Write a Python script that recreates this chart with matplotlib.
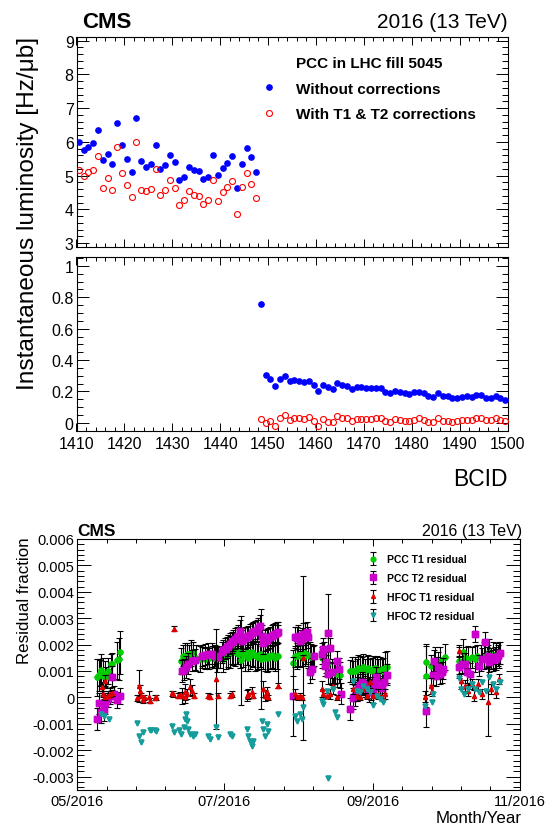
import numpy as np
import matplotlib
matplotlib.use('Agg')
import matplotlib.pyplot as plt
from matplotlib.ticker import MultipleLocator, FixedLocator, FuncFormatter, NullFormatter
from matplotlib.lines import Line2D
from matplotlib.container import ErrorbarContainer
from matplotlib.legend_handler import HandlerErrorbar
import datetime as dt

plt.rcParams['font.family'] = ['Liberation Sans', 'DejaVu Sans']
plt.rcParams['axes.unicode_minus'] = False

# ---------------- Upper figure data: PCC per BCID in fill 5045 ----------------
bcid = list(range(1410, 1500))
lumi_without = [
    5.99, 5.77, 5.86, 5.96, 6.34, 5.47, 5.65, 5.34, 6.57, 5.92,
    5.51, 5.12, 6.70, 5.43, 5.27, 5.34, 5.92, 5.20, 5.31, 5.61,
    5.41, 4.88, 4.96, 5.25, 5.18, 5.14, 4.89, 4.96, 5.61, 5.03,
    5.24, 5.38, 5.58, 4.65, 5.34, 5.82, 5.55, 5.10,
    0.756, 0.303, 0.278, 0.237, 0.278, 0.297, 0.269, 0.275, 0.269, 0.261,
    0.267, 0.242, 0.206, 0.242, 0.227, 0.216, 0.252, 0.242, 0.237, 0.218,
    0.229, 0.229, 0.222, 0.220, 0.225, 0.220, 0.197, 0.191, 0.206, 0.199,
    0.191, 0.184, 0.195, 0.199, 0.193, 0.172, 0.163, 0.191, 0.174, 0.172,
    0.157, 0.161, 0.167, 0.169, 0.167, 0.178, 0.176, 0.161, 0.159, 0.172,
    0.157, 0.148]
lumi_with = [
    5.16, 4.99, 5.10, 5.18, 5.57, 4.65, 4.92, 4.59, 5.84, 5.08,
    4.72, 4.38, 5.99, 4.58, 4.54, 4.61, 5.20, 4.42, 4.58, 4.87,
    4.65, 4.14, 4.27, 4.55, 4.44, 4.41, 4.17, 4.27, 4.88, 4.26,
    4.53, 4.66, 4.83, 3.87, 4.66, 5.07, 4.76, 4.33,
    0.025, -0.004, 0.015, -0.017, 0.030, 0.051, 0.021, 0.034, 0.032, 0.025,
    0.038, 0.015, -0.017, 0.023, 0.008, 0.004, 0.042, 0.030, 0.028, 0.013,
    0.025, 0.025, 0.023, 0.023, 0.030, 0.028, 0.011, 0.008, 0.025, 0.019,
    0.015, 0.013, 0.021, 0.030, 0.021, 0.006, 0.004, 0.032, 0.015, 0.013,
    0.004, 0.013, 0.021, 0.019, 0.019, 0.034, 0.032, 0.019, 0.021, 0.030,
    0.019, 0.013]

# ---------------- Lower figure data: residual fractions vs time ----------------
# time = days since 2016-05-01
pcc_t1_day = [8.4, 8.9, 9.3, 9.9, 10.7, 11.4, 12.1, 12.7, 13.9, 14.6, 16.7, 17.4, 17.9,
              43.3, 44.1, 44.7, 45.5, 46.5, 47.4, 48.3, 49.2,
              51.0, 52.0, 53.0, 54.0, 55.0, 56.0, 57.0, 58.0,
              59.5, 60.8, 61.8, 62.6, 63.5, 64.2, 64.9, 65.6, 66.3, 67.0, 67.7, 68.3, 69.0, 69.8,
              70.5, 71.2, 71.8, 72.5, 73.2, 73.9, 74.6, 75.3, 76.0, 76.6, 77.3, 78.1, 78.8, 79.5,
              80.1, 80.8, 81.5, 82.2, 82.9, 83.5,
              89.9, 90.6, 91.2, 91.9, 92.6, 93.3, 93.9, 94.6, 95.3, 96.0, 96.7, 97.4, 98.1,
              101.6, 102.5, 103.4, 104.4, 105.2, 106.0, 106.6, 107.3, 108.0, 108.8, 109.4,
              113.4, 114.1, 114.8, 115.5, 116.2, 116.9, 117.6, 118.3, 119.0, 119.7, 120.4, 121.1,
              121.7, 122.4, 123.1, 123.8, 124.5, 125.2, 125.9, 126.6, 127.3, 128.0, 128.7,
              144.8, 145.1, 147.0, 148.7, 150.0, 150.8, 152.8,
              158.9, 160.4, 161.5, 162.6, 164.0, 165.2, 166.3, 167.7, 169.2, 170.2, 171.3, 172.8,
              174.2, 175.3]
pcc_t1_val = [0.00076, 0.00085, 0.00092, 0.00105, 0.00080, 0.00088, 0.00076, 0.00100, 0.00125,
              0.00127, 0.00140, 0.00146, 0.00170,
              0.00138, 0.00158, 0.00156, 0.00165, 0.00160, 0.00168, 0.00171, 0.00150,
              0.00145, 0.00150, 0.00146, 0.00152, 0.00148, 0.00155, 0.00150, 0.00145,
              0.00150, 0.00146, 0.00158, 0.00165, 0.00171, 0.00178, 0.00184, 0.00170, 0.00177,
              0.00165, 0.00171, 0.00140, 0.00165, 0.00160,
              0.00171, 0.00150, 0.00158, 0.00170, 0.00165, 0.00160, 0.00152, 0.00158, 0.00165,
              0.00146, 0.00158, 0.00150, 0.00156, 0.00148,
              0.00158, 0.00160, 0.00156, 0.00150, 0.00158, 0.00155,
              0.00129, 0.00155, 0.00156, 0.00160, 0.00165, 0.00160, 0.00150, 0.00168, 0.00165,
              0.00160, 0.00158, 0.00152, 0.00156,
              0.00150, 0.00160, 0.00120, 0.00130, 0.00089, 0.00095, 0.00095, 0.00092, 0.00089,
              0.00095, 0.00085,
              0.00100, 0.00101, 0.00098, 0.00101, 0.00105, 0.00110, 0.00108, 0.00112, 0.00114,
              0.00105, 0.00108, 0.00112, 0.00105, 0.00100, 0.00108, 0.00112, 0.00108, 0.00104,
              0.00101, 0.00106, 0.00100, 0.00110, 0.00115,
              0.00133, 0.00082, 0.00120, 0.00139, 0.00130, 0.00139, 0.00152,
              0.00139, 0.00171, 0.00150, 0.00143, 0.00152, 0.00145, 0.00158, 0.00150, 0.00158,
              0.00150, 0.00171, 0.00158, 0.00165, 0.00160]
pcc_t1_err = [0.0007, 0.0006, 0.0005, 0.0006, 0.0007, 0.0005, 0.0004, 0.0005, 0.0004, 0.0004,
              0.0007, 0.0008, 0.0008,
              0.0005, 0.0004, 0.0005, 0.0004, 0.0004, 0.0005, 0.0004, 0.0005,
              0.0005, 0.0004, 0.0004, 0.0004, 0.0004, 0.0004, 0.0004, 0.0005,
              0.0004, 0.0005, 0.0005, 0.0005, 0.0006, 0.0005, 0.0006, 0.0005, 0.0005, 0.0004,
              0.0006, 0.0017, 0.0005, 0.0006,
              0.0005, 0.0005, 0.0005, 0.0005, 0.0005, 0.0006, 0.0005, 0.0005, 0.0005, 0.0019,
              0.0005, 0.0005, 0.0006, 0.0005,
              0.0005, 0.0005, 0.0005, 0.0005, 0.0005, 0.0012,
              0.0005, 0.0004, 0.0005, 0.0004, 0.0005, 0.0004, 0.0031, 0.0005, 0.0004, 0.0005,
              0.0005, 0.0005, 0.0004,
              0.0004, 0.0005, 0.0004, 0.0005, 0.0004, 0.0005, 0.0004, 0.0004, 0.0005, 0.0004,
              0.0005,
              0.0004, 0.0005, 0.0004, 0.0005, 0.0004, 0.0005, 0.0005, 0.0004, 0.0005, 0.0004,
              0.0005, 0.0005, 0.0004, 0.0005, 0.0005, 0.0004, 0.0005, 0.0004, 0.0005, 0.0004,
              0.0005, 0.0006, 0.0006,
              0.0006, 0.0012, 0.0004, 0.0005, 0.0004, 0.0005, 0.0005,
              0.0005, 0.0005, 0.0004, 0.0005, 0.0004, 0.0005, 0.0004, 0.0005, 0.0005, 0.0004,
              0.0005, 0.0005, 0.0004, 0.0005]

pcc_t2_day = [8.4, 8.9, 9.9, 11.1, 11.4, 12.8, 13.5, 14.6, 15.2, 16.7, 17.7,
              43.4, 44.4, 45.4, 46.2, 47.6, 49.0,
              51.7, 53.1, 54.5, 55.9, 57.3, 58.7,
              60.1, 60.8, 61.4, 62.1, 62.8, 63.5, 64.2, 64.9, 65.6, 66.3, 67.0, 67.7, 68.4, 69.1,
              69.8, 70.5, 71.2, 71.8, 72.5, 73.2, 73.9, 74.6, 75.3, 76.0, 76.7, 77.4, 78.1, 78.8,
              79.5, 80.2, 80.9, 81.6, 82.3, 83.0, 83.6,
              89.9, 90.5, 91.2, 91.9, 92.6, 93.3, 94.0, 94.7, 95.4, 96.1, 96.8, 97.5, 98.3,
              101.6, 102.3, 103.0, 103.4, 104.3, 104.4, 104.9, 106.0, 108.2, 108.9, 109.6,
              113.6, 114.5, 115.5, 116.2, 116.9, 117.6, 118.3, 119.0, 119.7, 120.4, 121.5, 122.3,
              123.1, 123.7, 124.3, 125.2, 125.9, 126.6, 127.6, 128.7,
              144.8, 147.8, 148.5, 149.2, 150.2, 150.8, 151.5, 152.2,
              158.9, 160.1, 161.1, 161.9, 163.3, 165.5, 167.0, 168.4, 169.6, 170.6, 171.4, 172.1,
              172.8, 173.5, 174.3, 175.0, 175.7]
pcc_t2_val = [-0.00082, -0.00023, -0.00057, -0.00048, -0.00022, -0.00006, 0.00006, 0.00078,
              0.00013, -0.00009, 0.00006,
              0.00100, 0.00104, 0.00115, 0.00127, 0.00139, 0.00142,
              0.00158, 0.00161, 0.00165, 0.00165, 0.00158, 0.00152,
              0.00171, 0.00178, 0.00184, 0.00190, 0.00196, 0.00203, 0.00209, 0.00215, 0.00222,
              0.00228, 0.00234, 0.00253, 0.00215, 0.00222, 0.00225, 0.00228, 0.00232, 0.00237,
              0.00242, 0.00247, 0.00250, 0.00253, 0.00262, 0.00272, 0.00234, 0.00205, 0.00215,
              0.00218, 0.00224, 0.00228, 0.00234, 0.00237, 0.00240, 0.00244, 0.00247,
              0.00004, 0.00228, 0.00225, 0.00234, 0.00215, 0.00222, 0.00240, 0.00240, 0.00247,
              0.00228, 0.00095, 0.00108, 0.00158,
              0.00165, 0.00184, 0.00120, 0.00133, 0.00089, 0.00243, 0.00186, 0.00095, 0.00137,
              0.00108, 0.00013,
              -0.00044, -0.00003, 0.00006, 0.00025, 0.00038, 0.00048, 0.00057, 0.00050, 0.00042,
              0.00035, 0.00022, 0.00030, 0.00019, 0.00050, 0.00076, 0.00051, 0.00040, 0.00034,
              0.00057, 0.00086,
              -0.00053, 0.00085, 0.00139, 0.00082, 0.00114, 0.00089, 0.00095, 0.00108,
              0.00114, 0.00127, 0.00127, 0.00095, 0.00089, 0.00240, 0.00120, 0.00146, 0.00209,
              0.00158, 0.00135, 0.00146, 0.00140, 0.00152, 0.00145, 0.00158, 0.00168]
pcc_t2_err = [0.0004, 0.0004, 0.0004, 0.0004, 0.0004, 0.0003, 0.0003, 0.0004, 0.0003, 0.0003,
              0.0003,
              0.0004, 0.0004, 0.0004, 0.0004, 0.0004, 0.0004,
              0.0004, 0.0004, 0.0004, 0.0004, 0.0004, 0.0004,
              0.0004, 0.0004, 0.0004, 0.0004, 0.0004, 0.0004, 0.0004, 0.0004, 0.0004, 0.0004,
              0.0004, 0.0004, 0.0004, 0.0004, 0.0004, 0.0004, 0.0004, 0.0004, 0.0004, 0.0004,
              0.0004, 0.0004, 0.0004, 0.0004, 0.0004, 0.0004, 0.0004, 0.0004, 0.0004, 0.0004,
              0.0004, 0.0004, 0.0004, 0.0004, 0.0004,
              0.0015, 0.0004, 0.0004, 0.0004, 0.0004, 0.0004, 0.0004, 0.0004, 0.0004, 0.0004,
              0.0004, 0.0004, 0.0004,
              0.0004, 0.0004, 0.0004, 0.0004, 0.0004, 0.0015, 0.0004, 0.0004, 0.0004, 0.0004,
              0.0004,
              0.0004, 0.0004, 0.0004, 0.0004, 0.0004, 0.0004, 0.0004, 0.0004, 0.0004, 0.0004,
              0.0004, 0.0004, 0.0004, 0.0004, 0.0004, 0.0004, 0.0004, 0.0004, 0.0004, 0.0004,
              0.0006, 0.0004, 0.0004, 0.0004, 0.0004, 0.0004, 0.0004, 0.0004,
              0.0004, 0.0004, 0.0004, 0.0004, 0.0004, 0.0003, 0.0004, 0.0004, 0.0004, 0.0004,
              0.0004, 0.0004, 0.0004, 0.0004, 0.0004, 0.0004, 0.0004]

hfoc_t1_day = [10.5, 10.7, 11.4, 11.7, 12.8, 13.5, 14.6,
               25.0, 25.6, 26.0, 26.7, 27.4, 27.8, 29.9, 30.4, 32.2, 32.9,
               39.5, 39.8, 40.2, 41.9, 42.6,
               43.4, 44.7, 44.8, 45.5, 46.9, 47.6, 48.6,
               54.5, 55.2, 57.6, 58.7, 63.5, 64.2, 70.5, 71.2, 72.5, 73.2,
               77.3, 78.1, 78.8, 79.5, 83.3,
               90.5, 91.9, 92.6, 93.3, 94.0,
               101.6, 102.3, 103.7, 105.1, 106.5, 108.0,
               114.8, 116.2, 117.6, 119.0, 120.4, 121.7, 123.1, 125.2, 126.6, 128.0,
               144.6, 146.9, 147.4,
               158.6, 159.7, 161.1, 162.6, 164.0, 165.1, 166.5, 168.4, 170.9, 172.1, 174.2, 175.3]
hfoc_t1_val = [0.00038, 0.00013, 0.00000, 0.00063, 0.00006, 0.00013, 0.00016,
               -0.00003, 0.00042, 0.00025, 0.00006, -0.00010, 0.00000, 0.00003, -0.00013,
               -0.00001, 0.00000,
               0.00015, 0.00013, 0.00260, 0.00006, 0.00009,
               0.00006, 0.00019, 0.00000, 0.00013, 0.00038, 0.00025, 0.00006,
               0.00006, 0.00003, 0.00070, 0.00006, 0.00006, 0.00013, 0.00006, 0.00013, 0.00019,
               0.00006,
               0.00032, 0.00006, 0.00019, 0.00000, 0.00044,
               0.00013, 0.00000, 0.00006, 0.00000, 0.00150,
               0.00032, 0.00013, 0.00006, 0.00013, 0.00044, 0.00000,
               0.00032, 0.00006, 0.00000, 0.00032, 0.00006, 0.00057, 0.00006, 0.00013, 0.00000,
               0.00013,
               0.00003, 0.00044, 0.00025,
               0.00177, 0.00063, 0.00044, 0.00025, 0.00051, 0.00006, 0.00051, 0.00013, -0.00016,
               0.00032, 0.00019, 0.00070]
hfoc_t1_err = [0.0002, 0.0001, 0.0001, 0.0002, 0.0001, 0.0001, 0.0001,
               0.0001, 0.0006, 0.0002, 0.0001, 0.0001, 0.0001, 0.0002, 0.0001, 0.0001, 0.0001,
               0.0001, 0.0001, 0.0001, 0.0001, 0.0001,
               0.0003, 0.0003, 0.0002, 0.0002, 0.0003, 0.0002, 0.0001,
               0.0001, 0.0001, 0.0019, 0.0001, 0.0001, 0.0001, 0.0002, 0.0002, 0.0002, 0.0001,
               0.0003, 0.0002, 0.0002, 0.0001, 0.0001,
               0.0002, 0.0001, 0.0001, 0.0001, 0.0001,
               0.0003, 0.0002, 0.0001, 0.0002, 0.0003, 0.0001,
               0.0002, 0.0002, 0.0001, 0.0002, 0.0001, 0.0002, 0.0001, 0.0002, 0.0001, 0.0002,
               0.0002, 0.0003, 0.0002,
               0.0002, 0.0003, 0.0002, 0.0002, 0.0002, 0.0002, 0.0002, 0.0002, 0.0013, 0.0002,
               0.0002, 0.0002]

hfoc_t2_day = [10.0, 11.0, 13.1,
               25.0, 25.6, 26.4, 27.4, 30.1, 30.8, 32.2, 32.9,
               39.4, 40.1, 42.3, 43.0, 44.4, 44.8, 45.4, 45.5, 46.2, 46.9, 48.3, 49.0,
               54.5, 55.2, 57.6, 58.7, 63.5, 64.2, 70.5, 71.2, 71.8, 72.5, 73.2,
               76.7, 77.3, 78.1, 78.8, 79.5, 83.3,
               90.5, 91.2, 92.6, 93.3, 94.0,
               101.6, 102.3, 103.7, 104.4, 106.5, 107.2, 108.0,
               114.8, 116.2, 117.6, 119.0, 120.4, 121.7, 122.8, 124.5, 125.9, 127.3,
               144.6, 147.4, 147.8,
               158.6, 159.7, 160.7, 162.6, 164.0, 165.5, 167.0, 168.4, 169.9, 171.3, 172.8,
               174.2, 175.7]
hfoc_t2_val = [-0.00063, -0.00070, -0.00082,
               -0.00097, -0.00146, -0.00171, -0.00133, -0.00123, -0.00124, -0.00124, -0.00127,
               -0.00108, -0.00133, -0.00123, -0.00139, -0.00114, -0.00082, -0.00063, -0.00090,
               -0.00120, -0.00139, -0.00146, -0.00139,
               -0.00146, -0.00158, -0.00114, -0.00152, -0.00139, -0.00146, -0.00120, -0.00146,
               -0.00165, -0.00184, -0.00165,
               -0.00089, -0.00120, -0.00146, -0.00101, -0.00127, -0.00063,
               -0.00070, -0.00089, -0.00063, -0.00082, -0.00038,
               -0.00013, -0.00025, 0.00025, -0.00304, 0.00032, -0.00057, -0.00076,
               0.00063, 0.00025, 0.00019, 0.00044, 0.00032, 0.00019, -0.00029, 0.00006, -0.00006,
               -0.00019,
               -0.00032, -0.00019, 0.00013,
               0.00072, 0.00032, 0.00013, 0.00032, 0.00051, 0.00032, 0.00019, 0.00057, 0.00025,
               0.00076, 0.00051, 0.00032, 0.00057]
hfoc_t2_err = [0.00003] * len(hfoc_t2_val)

month_ticks = ['2016-05-01', '2016-07-01', '2016-09-01', '2016-11-01']
month_labels = ['05/2016', '07/2016', '09/2016', '11/2016']

# ---------------- Figure ----------------
W, H = 550, 828
fig = plt.figure(figsize=(5.5, 8.28), dpi=100)

def fx(px):
    return px / W

def fy(py):
    return 1 - py / H

ax1 = fig.add_axes([fx(76.5), fy(248.3), fx(507.5) - fx(76.5), fy(38.3) - fy(248.3)])
ax2 = fig.add_axes([fx(76.5), fy(431.7), fx(507.5) - fx(76.5), fy(258.3) - fy(431.7)])
ax3 = fig.add_axes([fx(77.2), fy(790.7), fx(519.8) - fx(77.2), fy(540.0) - fy(790.7)])

xc = np.array(bcid) + 0.5   # bin centres
blue = '#0000ff'
red = '#ff0000'

for ax in (ax1, ax2):
    ax.plot(xc, lumi_without, 'o', color=blue, ms=3.8, mec=blue, zorder=3)
    ax.plot(xc, lumi_with, 'o', mfc='none', mec=red, mew=0.8, ms=4.3, zorder=3)
    ax.set_xlim(1410, 1500)
    ax.xaxis.set_major_locator(MultipleLocator(10))
    ax.xaxis.set_minor_locator(MultipleLocator(2))

ax1.set_ylim(2.88, 9.1)
ax1.yaxis.set_major_locator(MultipleLocator(1))
ax1.yaxis.set_minor_locator(MultipleLocator(0.2))
ax1.xaxis.set_major_formatter(NullFormatter())
ax1.yaxis.set_major_formatter(FuncFormatter(lambda v, p: '%d' % round(v)))

ax2.set_ylim(-0.05, 1.055)
ax2.yaxis.set_major_locator(MultipleLocator(0.2))
ax2.yaxis.set_minor_locator(MultipleLocator(0.05))
ax2.yaxis.set_major_formatter(FuncFormatter(
    lambda v, p: '0' if abs(v) < 1e-9 else ('1' if abs(v - 1) < 1e-9 else '%.1f' % v)))
ax2.xaxis.set_major_formatter(FuncFormatter(lambda v, p: '%d' % round(v)))

for ax in (ax1, ax2):
    ax.tick_params(which='both', direction='in', top=True, right=True, width=0.7,
                   labelsize=11.5, colors='black')
    ax.tick_params(axis='y', which='major', length=8.9, pad=2)
    ax.tick_params(axis='y', which='minor', length=4.4)
    ax.tick_params(axis='x', which='major', length=5.8, pad=3.5)
    ax.tick_params(axis='x', which='minor', length=2.9)
    for s in ax.spines.values():
        s.set_linewidth(0.8)

# legend for upper figure
hdr = Line2D([], [], linestyle='none', marker='None')
h1 = Line2D([], [], linestyle='none', marker='o', color=blue, ms=3.8)
h2 = Line2D([], [], linestyle='none', marker='o', mfc='none', mec=red, mew=0.8, ms=4.3)
leg = ax1.legend([hdr, h1, h2], ['PCC in LHC fill 5045', 'Without corrections',
                                 'With T1 & T2 corrections'],
                 loc='upper left', bbox_to_anchor=(fx(261.4), fy(56.6)),
                 bbox_transform=fig.transFigure, frameon=False, borderpad=0,
                 borderaxespad=0, handlelength=1.0, handletextpad=1.27, labelspacing=0.78,
                 numpoints=1, prop={'weight': 'bold', 'size': 11})

fig.text(fx(81.7), fy(28.3), 'CMS', fontsize=16, fontweight='bold', va='baseline', ha='left')
fig.text(fx(507.5), fy(28.3), '2016 (13 TeV)', fontsize=15, va='baseline', ha='right')
fig.text(fx(28), fy(37), 'Instantaneous luminosity [Hz/\u03bcb]', fontsize=17.6,
         rotation=90, ha='center', va='top')
fig.text(fx(507.5), fy(486), 'BCID', fontsize=16.5, ha='right', va='baseline')

# ---------------- Lower figure ----------------
start = dt.date(2016, 5, 1)
tick_days = [(dt.date.fromisoformat(d) - start).days for d in month_ticks]

series = [
    (pcc_t1_day, pcc_t1_val, pcc_t1_err, 'o', '#00cc00', 3.4, 'PCC T1 residual', 2.2),
    (pcc_t2_day, pcc_t2_val, pcc_t2_err, 's', '#cc00cc', 4.4, 'PCC T2 residual', 2.2),
    (hfoc_t1_day, hfoc_t1_val, hfoc_t1_err, '^', '#dd0000', 2.8, 'HFOC T1 residual', 2.2),
    (hfoc_t2_day, hfoc_t2_val, hfoc_t2_err, 'v', '#179c9c', 3.4, 'HFOC T2 residual', 0),
]
handles = []
labels = []
for i, (d, v, e, m, c, ms, lab, cs) in enumerate(series):
    z = 3 + 2 * i
    ax3.errorbar(d, v, yerr=e, fmt=m, color=c, mec=c, ms=ms, ecolor='black',
                 elinewidth=0.8, capsize=cs, capthick=0.8, zorder=z)
    # markers drawn above their own error bars
    ax3.plot(d, v, m, color=c, mec=c, ms=ms, zorder=z + 1)
    # legend proxy (no data) in the same style, with capped bars
    proxy = ax3.errorbar([np.nan], [np.nan], yerr=[0], fmt=m, color=c, mec=c, ms=ms,
                         ecolor='black', elinewidth=0.8, capsize=2.2, capthick=0.8)
    handles.append(proxy)
    labels.append(lab)

ax3.set_xlim(tick_days[0], tick_days[-1])
ax3.set_ylim(-0.0035, 0.006)
ax3.xaxis.set_major_locator(FixedLocator(tick_days))
minor = []
for a, b in zip(tick_days[:-1], tick_days[1:]):
    minor.extend(list(np.linspace(a, b, 6)[1:-1]))
ax3.xaxis.set_minor_locator(FixedLocator(minor))
ax3.set_xticklabels(month_labels)
ax3.yaxis.set_major_locator(MultipleLocator(0.001))
ax3.yaxis.set_minor_locator(MultipleLocator(0.0002))
ax3.yaxis.set_major_formatter(FuncFormatter(lambda v, p: '0' if abs(v) < 1e-12 else '%.3f' % v))
ax3.tick_params(which='both', direction='in', top=True, right=True, width=0.7,
                labelsize=10.5, colors='black')
ax3.tick_params(axis='y', which='major', length=10, pad=2)
ax3.tick_params(axis='y', which='minor', length=5)
ax3.tick_params(axis='x', which='major', length=5.3, pad=3)
ax3.tick_params(axis='x', which='minor', length=2.6)
for s in ax3.spines.values():
    s.set_linewidth(0.8)

ax3.legend(handles, labels, loc='upper left', bbox_to_anchor=(fx(367.6), fy(555.2)),
           bbox_transform=fig.transFigure, frameon=False, borderpad=0, borderaxespad=0,
           handlelength=1.0, handletextpad=0.85, labelspacing=0.85, numpoints=1,
           prop={'weight': 'bold', 'size': 7.5},
           handler_map={ErrorbarContainer: HandlerErrorbar(xerr_size=0.3, yerr_size=0.6)})

fig.text(fx(77.2), fy(536), 'CMS', fontsize=12.5, fontweight='bold', va='baseline', ha='left')
fig.text(fx(522.6), fy(536), '2016 (13 TeV)', fontsize=11.5, va='baseline', ha='right')
fig.text(fx(24.5), fy(537), 'Residual fraction', fontsize=12.2, rotation=90,
         ha='center', va='top')
fig.text(fx(521.6), fy(823.3), 'Month/Year', fontsize=12.2, ha='right', va='baseline')

fig.savefig('out.png', dpi=100)
